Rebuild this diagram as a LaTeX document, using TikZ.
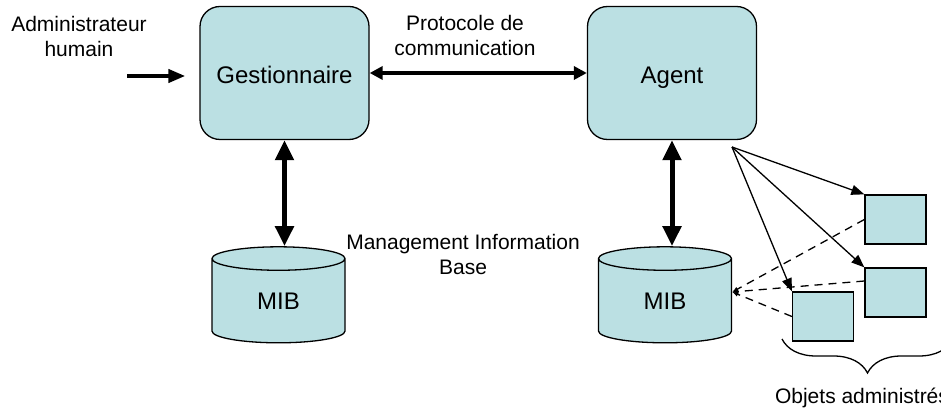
\documentclass[tikz,border=0pt]{standalone}
\usepackage{fontspec}
\setmainfont{Liberation Sans}
\usepackage{tikz}
\usetikzlibrary{positioning}
\usetikzlibrary{arrows.meta}
\usetikzlibrary{shapes.geometric}
\usetikzlibrary{decorations.pathreplacing}
\definecolor{boxfill}{RGB}{187,224,227}

\begin{document}
\begin{tikzpicture}[x=1pt, y=-1pt,
box/.style={draw,line width=1.3pt,fill=boxfill,rounded corners=20pt,minimum width=169pt,minimum height=133pt,text height=22pt,text depth=0pt,font=\fontsize{24}{28}\selectfont},
mib/.style={cylinder,shape border rotate=90,aspect=0.55,draw,line width=1.3pt,fill=boxfill,minimum width=133pt,minimum height=96pt,inner sep=0pt,font=\fontsize{24}{28}\selectfont},
obj/.style={draw,line width=1.3pt,fill=boxfill,minimum width=61pt,minimum height=49pt,inner sep=0pt},
lbl/.style={align=center,font=\fontsize{21}{25}\selectfont},
bigarrow/.style={line width=5pt,{Triangle[length=20pt,width=18pt]}-{Triangle[length=20pt,width=18pt]}},
protoarrow/.style={line width=3.5pt,{Triangle[length=13pt,width=13pt]}-{Triangle[length=13pt,width=13pt]}},
inarrow/.style={line width=4pt,-{Triangle[length=17pt,width=13pt]}},
fanarrow/.style={line width=1.3pt,-{Triangle[length=13pt,width=10pt]}},
dasharrow/.style={line width=1.3pt,dash pattern=on 8pt off 6pt,-{Latex[length=6pt,width=5pt]}}]

\useasboundingbox (0,0) rectangle (941,411);

% gestionnaire / agent
\node [box] (gest) at (284.5,73) {Gestionnaire};
\node [box] (agent) at (672,73) {Agent};

\node [lbl] (admin) at (79,36) {Administrateur\\humain};
\node [lbl] (proto) at (465,35) {Protocole de\\communication};

\coordinate (adm) at (127,76);
\draw [inarrow,shorten >=14pt] (adm) -- (adm -| gest.west);
\draw [protoarrow] (gest.east) -- (agent.west);

% les deux MIB
\node [mib] (mibg) at (278.5,301) {MIB};
\node [mib] (mibd) at (665,301) {MIB};
\node [lbl] (mgmt) at (463,254) {Management Information\\Base};

\draw [bigarrow] (gest.south) -- (gest.south |- mibg.north);
\draw [bigarrow] (agent.south) -- (agent.south |- mibd.north);

% objets administres
\node [obj] (obj1) at (895.5,219.5) {};
\node [obj] (obj2) at (895.5,292.5) {};
\node [obj] (obj3) at (823,316.5) {};

\coordinate (fan) at (732,147);
\coordinate (mibin) at ([yshift=9pt]mibd.east);
\draw [fanarrow] (fan) -- (obj1.north west);
\draw [fanarrow] (fan) -- (obj2.north west);
\draw [fanarrow] (fan) -- (obj3.north west);

\draw [dasharrow] (obj1.west) -- (mibin);
\draw [dasharrow] ([yshift=11.5pt]obj2.west) -- (mibin);
\draw [dasharrow] (obj3.west) -- (mibin);

% accolade
\draw [line width=1.3pt,decorate,decoration={brace,mirror,amplitude=34pt}] (782,339) -- (953,339);
\node [lbl] (objets) at (862,398) {Objets administrés};

\end{tikzpicture}
\end{document}
